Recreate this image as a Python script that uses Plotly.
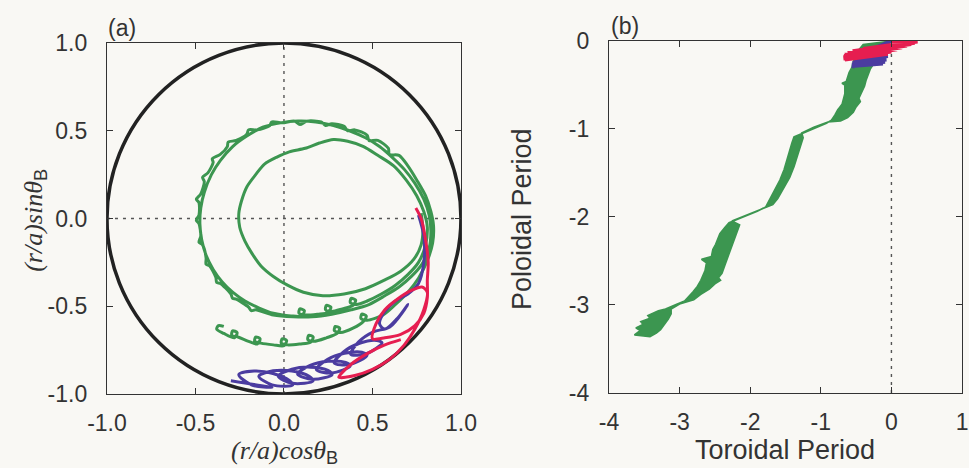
import plotly.graph_objects as go

# ---------------- panel (a): orbits in the poloidal cross-section ----------------
green_a_x = [
    # first (inner) poloidal turn
    0.775, 0.785, 0.775, 0.735, 0.66, 0.57, 0.46, 0.34, 0.22, 0.11, 0.02, -0.06, -0.13, -0.18,
    -0.22, -0.25, -0.255, -0.24, -0.21, -0.16, -0.11, -0.04, 0.03, 0.12, 0.20, 0.28, 0.36, 0.45,
    0.53, 0.62, 0.69, 0.75, 0.79,
    # second turn
    0.81, 0.80, 0.76, 0.70, 0.63, 0.55, 0.47,
    0.41, 0.375, 0.38, 0.405, 0.39, 0.33,
    0.27, 0.235, 0.24, 0.265, 0.25, 0.19,
    0.12, 0.085, 0.09, 0.115, 0.10, 0.04,
    -0.06, -0.14, -0.22, -0.29, -0.35, -0.40, -0.44, -0.465,
    -0.475, -0.47, -0.45, -0.41, -0.36, -0.29, -0.21, -0.12, -0.02, 0.08, 0.18, 0.28, 0.37, 0.46,
    0.54, 0.61, 0.68, 0.74, 0.79, 0.82,
    # third turn
    0.83, 0.82, 0.78, 0.72, 0.65, 0.57, 0.48, 0.38, 0.27, 0.16, 0.05, -0.06, -0.16, -0.185, -0.20,
    -0.27, -0.29, -0.30, -0.36, -0.38, -0.385, -0.42, -0.44, -0.44, -0.46, -0.48, -0.47, -0.48,
    -0.495, -0.48, -0.48, -0.495, -0.47, -0.45, -0.46, -0.43, -0.40, -0.405, -0.36, -0.32, -0.315,
    -0.27, -0.21, -0.20, -0.15, -0.08, -0.07, -0.01, 0.06, 0.09, 0.13, 0.21, 0.235, 0.27, 0.34,
    0.36, 0.40, 0.47, 0.48, 0.53, 0.59, 0.595, 0.65, 0.70, 0.75, 0.80, 0.83, 0.845,
    # last partial turn, drifting outward
    0.84, 0.81, 0.76, 0.70, 0.63, 0.56,
    0.47, 0.435, 0.44, 0.465, 0.45, 0.39,
    0.32, 0.285, 0.29, 0.315, 0.30, 0.24,
    0.17, 0.135, 0.14, 0.165, 0.15, 0.09,
    0.02, -0.015, -0.01, 0.015, 0.0, -0.06,
    -0.13, -0.165, -0.16, -0.135, -0.15, -0.20,
    -0.26, -0.295, -0.29, -0.265, -0.28, -0.34,
    -0.38, -0.37, -0.34,
]
green_a_y = [
    0.03, -0.06, -0.15, -0.23, -0.30, -0.35, -0.40, -0.43, -0.44, -0.42, -0.38, -0.33, -0.27, -0.20,
    -0.13, -0.05, 0.03, 0.10, 0.18, 0.25, 0.31, 0.35, 0.38, 0.40, 0.43, 0.45, 0.44, 0.41,
    0.36, 0.30, 0.22, 0.13, 0.04,
    -0.05, -0.15, -0.25, -0.32, -0.38, -0.43, -0.47,
    -0.49, -0.48, -0.455, -0.465, -0.495, -0.515,
    -0.53, -0.52, -0.495, -0.505, -0.535, -0.545,
    -0.55, -0.54, -0.515, -0.525, -0.555, -0.555,
    -0.54, -0.51, -0.47, -0.42, -0.36, -0.29, -0.21, -0.12,
    -0.03, 0.06, 0.15, 0.25, 0.33, 0.41, 0.47, 0.52, 0.545, 0.555, 0.55, 0.53, 0.50, 0.46,
    0.41, 0.35, 0.28, 0.20, 0.11, 0.02,
    -0.07, -0.17, -0.26, -0.33, -0.39, -0.44, -0.49, -0.52, -0.545, -0.56, -0.56, -0.55, -0.52, -0.525, -0.505,
    -0.46, -0.455, -0.43, -0.37, -0.365, -0.335, -0.27, -0.26, -0.225, -0.15, -0.135, -0.10, -0.03,
    -0.01, 0.02, 0.09, 0.11, 0.14, 0.21, 0.235, 0.26, 0.32, 0.34, 0.365, 0.41, 0.435,
    0.445, 0.48, 0.505, 0.505, 0.53, 0.55, 0.545, 0.555, 0.535, 0.555, 0.55, 0.53, 0.54, 0.525,
    0.50, 0.505, 0.475, 0.445, 0.445, 0.40, 0.365, 0.36, 0.30, 0.22, 0.13, 0.04, -0.04,
    -0.14, -0.24, -0.34, -0.42, -0.49, -0.55,
    -0.58, -0.57, -0.545, -0.555, -0.585, -0.625,
    -0.65, -0.64, -0.615, -0.625, -0.655, -0.68,
    -0.70, -0.69, -0.665, -0.675, -0.705, -0.715,
    -0.72, -0.71, -0.685, -0.695, -0.725, -0.72,
    -0.71, -0.70, -0.675, -0.685, -0.715, -0.70,
    -0.675, -0.665, -0.64, -0.65, -0.68, -0.655,
    -0.63, -0.61, -0.615,
]

blue_a_x = [
    0.76, 0.79, 0.79, 0.76, 0.70, 0.63, 0.57, 0.54, 0.57, 0.64, 0.70, 0.68,
    0.598, 0.505, 0.422, 0.377, 0.464, 0.554,
    0.524, 0.427, 0.338, 0.284, 0.370, 0.469,
    0.440, 0.342, 0.245, 0.183, 0.269, 0.374,
    0.348, 0.248, 0.148, 0.077, 0.162, 0.272,
    0.248, 0.150, 0.045, -0.032, 0.049, 0.164,
    0.142, 0.045, -0.061, -0.142, -0.067, 0.049,
    0.032, -0.062, -0.169, -0.255, -0.184, -0.068,
    -0.30,
]
blue_a_y = [
    0.02, -0.10, -0.25, -0.37, -0.43, -0.47, -0.53, -0.60, -0.63, -0.57, -0.49, -0.52,
    -0.618, -0.646, -0.703, -0.773, -0.771, -0.709,
    -0.695, -0.711, -0.759, -0.823, -0.832, -0.780,
    -0.762, -0.768, -0.803, -0.861, -0.880, -0.841,
    -0.820, -0.813, -0.837, -0.886, -0.916, -0.889,
    -0.865, -0.847, -0.859, -0.899, -0.939, -0.926,
    -0.899, -0.869, -0.868, -0.899, -0.948, -0.949,
    -0.924, -0.883, -0.869, -0.889, -0.948, -0.963,
    -0.925,
]

red_a_x = [
    0.745, 0.775, 0.80, 0.815, 0.81, 0.81, 0.79, 0.74, 0.66, 0.57, 0.50, 0.52, 0.57, 0.64,
    0.72, 0.78, 0.81, 0.79, 0.74, 0.68, 0.60, 0.50, 0.40, 0.31, 0.38, 0.47, 0.57, 0.66,
]
red_a_y = [
    0.06, 0.0, -0.12, -0.25, -0.35, -0.45, -0.54, -0.61, -0.66, -0.68, -0.685, -0.60, -0.52, -0.46,
    -0.41, -0.39, -0.42, -0.52, -0.63, -0.72, -0.80, -0.86, -0.895, -0.905, -0.83, -0.77, -0.72, -0.69,
]

wall_radius = 1.0
ticks_a = [-1.0, -0.5, 0.0, 0.5, 1.0]
tick_text_a = ["-1.0", "-0.5", "0.0", "0.5", "1.0"]

# ---------------- panel (b): poloidal vs toroidal period ----------------
# envelope of the green trajectory: lower/left boundary (top -> bottom)
green_b_left_tor = [
    0.0, -0.40, -0.48, -0.52, -0.55, -0.56, -0.60, -0.63, -0.64, -0.70, -0.66, -0.66, -0.68,
    -0.70, -0.74, -0.76, -0.80, -0.85, -0.92, -1.10, -1.30, -1.38, -1.41, -1.43, -1.47, -1.52,
    -1.58, -1.66, -1.73, -1.78, -1.90, -2.05, -2.30, -2.36, -2.43, -2.49, -2.53, -2.55, -2.69,
    -2.62, -2.64, -2.70, -2.75, -2.81, -2.93, -3.05, -3.20, -3.30, -3.45, -3.42, -3.55, -3.52,
    -3.62, -3.56, -3.64,
]
green_b_left_pol = [
    0.0, -0.04, -0.12, -0.18, -0.27, -0.30, -0.36, -0.42, -0.46, -0.48, -0.50, -0.60, -0.66,
    -0.72, -0.76, -0.78, -0.84, -0.90, -0.935, -0.995, -1.055, -1.09, -1.16, -1.22, -1.34, -1.46,
    -1.58, -1.70, -1.82, -1.885, -1.935, -1.985, -2.065, -2.12, -2.19, -2.31, -2.37, -2.45, -2.48,
    -2.52, -2.61, -2.72, -2.79, -2.85, -2.955, -2.995, -3.045, -3.065, -3.12, -3.15, -3.19, -3.22,
    -3.26, -3.29, -3.34,
]
# upper/right boundary (bottom -> top)
green_b_right_tor = [
    -3.42, -3.33, -3.27, -3.21, -3.16, -3.12, -3.12, -3.00, -2.88, -2.80, -2.70, -2.58, -2.50,
    -2.42, -2.45, -2.40, -2.36, -2.32, -2.29, -2.24, -2.21, -2.18, -2.15, -2.26, -2.02, -1.85,
    -1.68, -1.61, -1.52, -1.44, -1.38, -1.33, -1.28, -1.25, -1.27, -1.10, -0.90, -0.72, -0.62,
    -0.54, -0.50, -0.44, -0.46, -0.42, -0.38, -0.36, -0.33, -0.30, -0.26, -0.18, -0.10, -0.03,
]
green_b_right_pol = [
    -3.36, -3.32, -3.28, -3.22, -3.16, -3.10, -3.045, -2.99, -2.955, -2.94, -2.88, -2.82, -2.76,
    -2.72, -2.69, -2.64, -2.55, -2.46, -2.40, -2.28, -2.22, -2.16, -2.09, -2.045, -1.965, -1.91,
    -1.86, -1.79, -1.67, -1.55, -1.43, -1.31, -1.19, -1.10, -1.045, -0.98, -0.92, -0.91, -0.87,
    -0.81, -0.75, -0.69, -0.65, -0.58, -0.51, -0.45, -0.39, -0.32, -0.27, -0.21, -0.12, -0.05,
]

blue_b_tor = [0.0, -0.35, -0.03, -0.48, -0.05, -0.53, -0.07, -0.55, -0.09, -0.56, -0.12, -0.56,
              -0.18, -0.52]
blue_b_pol = [0.0, -0.12, -0.10, -0.18, -0.17, -0.22, -0.21, -0.25, -0.235, -0.27, -0.255, -0.285,
              -0.27, -0.29]

red_b_tor = [0.0, 0.37, -0.40, 0.33, -0.55, 0.28, -0.62, 0.22, -0.66, 0.15, -0.67, 0.08, -0.68,
             0.0, -0.68, -0.05, -0.66]
red_b_pol = [0.0, -0.005, -0.09, -0.02, -0.115, -0.035, -0.135, -0.05, -0.155, -0.07, -0.17, -0.095,
             -0.185, -0.12, -0.20, -0.145, -0.21]

ticks_b_x = [-4, -3, -2, -1, 0, 1]
ticks_b_y = [0, -1, -2, -3, -4]

# ---------------- styling ----------------
GREEN = "#3c9650"
BLUE = "#4b3ca0"
RED = "#e61e50"
INK = "#333333"
BG = "#f9f8f4"
SANS = "Liberation Sans, Arial, sans-serif"
SERIF = "Liberation Serif, Times New Roman, serif"

fig = go.Figure()


def orbit(x, y, color, xa, ya, width=3, shape="linear", smoothing=1.0):
    fig.add_trace(go.Scatter(
        x=x, y=y, mode="lines", xaxis=xa, yaxis=ya,
        line=dict(color=color, width=width, shape=shape,
                  smoothing=smoothing if shape == "spline" else None),
        hoverinfo="skip", showlegend=False,
    ))


orbit(green_a_x, green_a_y, GREEN, "x", "y", shape="spline", smoothing=0.8)
orbit(blue_a_x, blue_a_y, BLUE, "x", "y", shape="spline", smoothing=0.9)
orbit(red_a_x, red_a_y, RED, "x", "y", shape="spline", smoothing=0.8)

# green band in (b): filled envelope of the rapidly oscillating trajectory
fig.add_trace(go.Scatter(
    x=green_b_left_tor + green_b_right_tor,
    y=green_b_left_pol + green_b_right_pol,
    mode="lines", fill="toself", fillcolor=GREEN, xaxis="x2", yaxis="y2",
    line=dict(color=GREEN, width=1.6), hoverinfo="skip", showlegend=False,
))
orbit(blue_b_tor, blue_b_pol, BLUE, "x2", "y2", width=4)
orbit(red_b_tor, red_b_pol, RED, "x2", "y2", width=4)

axis_common = dict(
    showline=True, linecolor=INK, linewidth=1.3, mirror="ticks",
    ticks="inside", ticklen=6, tickwidth=1.3, tickcolor=INK,
    showgrid=False, zeroline=False, fixedrange=True, automargin=False,
    tickfont=dict(family=SANS, size=23, color=INK),
)
xaxis_style = dict(axis_common, ticklabelstandoff=8)
yaxis_style = dict(axis_common, ticklabelstandoff=14)

fig.update_layout(
    width=969, height=468,
    margin=dict(l=0, r=0, t=0, b=0),
    paper_bgcolor=BG, plot_bgcolor=BG,
    xaxis=dict(domain=[0.1104, 0.4757], range=[-1, 1], anchor="y",
               tickvals=ticks_a, ticktext=tick_text_a, **xaxis_style),
    yaxis=dict(domain=[0.1581, 0.9081], range=[-1, 1], anchor="x",
               tickvals=ticks_a, ticktext=tick_text_a, **yaxis_style),
    xaxis2=dict(domain=[0.6285, 0.9928], range=[-4, 1], anchor="y2",
                tickvals=ticks_b_x, ticktext=[str(v) for v in ticks_b_x], **xaxis_style),
    yaxis2=dict(domain=[0.1603, 0.9124], range=[-4, 0], anchor="x2",
                tickvals=ticks_b_y, ticktext=[str(v) for v in ticks_b_y], **yaxis_style),
)

dotted = dict(color="#555555", width=1.4, dash="3px,5px")
fig.add_shape(type="line", xref="x", yref="y", x0=0, x1=0, y0=-1, y1=1, line=dotted, layer="below")
fig.add_shape(type="line", xref="x", yref="y", x0=-1, x1=1, y0=0, y1=0, line=dotted, layer="below")
fig.add_shape(type="line", xref="x2", yref="y2", x0=0, x1=0, y0=-4, y1=0, line=dotted, layer="below")

# vessel wall r/a = 1
fig.add_shape(type="circle", xref="x", yref="y",
              x0=-wall_radius, x1=wall_radius, y0=-wall_radius, y1=wall_radius,
              line=dict(color="#222222", width=3.5), layer="below")

notes = [
    dict(x=0.1259, y=0.940, text="(a)", font=dict(family=SANS, size=23, color=INK)),
    dict(x=0.645, y=0.944, text="(b)", font=dict(family=SANS, size=23, color=INK)),
    dict(x=0.2931, y=0.034,
         text="<i>(r/a)cosθ</i><sub><span style='font-family:Liberation Sans'>B</span></sub>",
         font=dict(family=SERIF, size=26, color=INK)),
    dict(x=0.036, y=0.53, textangle=-90,
         text="<i>(r/a)sinθ</i><sub><span style='font-family:Liberation Sans'>B</span></sub>",
         font=dict(family=SERIF, size=26, color=INK)),
    dict(x=0.810, y=0.038, text="Toroidal Period", font=dict(family=SANS, size=27, color=INK)),
    dict(x=0.5387, y=0.532, textangle=-90, text="Poloidal Period",
         font=dict(family=SANS, size=27, color=INK)),
]
for n in notes:
    fig.add_annotation(xref="paper", yref="paper", showarrow=False,
                       xanchor="center", yanchor="middle", **n)

fig.write_html("out.html")
